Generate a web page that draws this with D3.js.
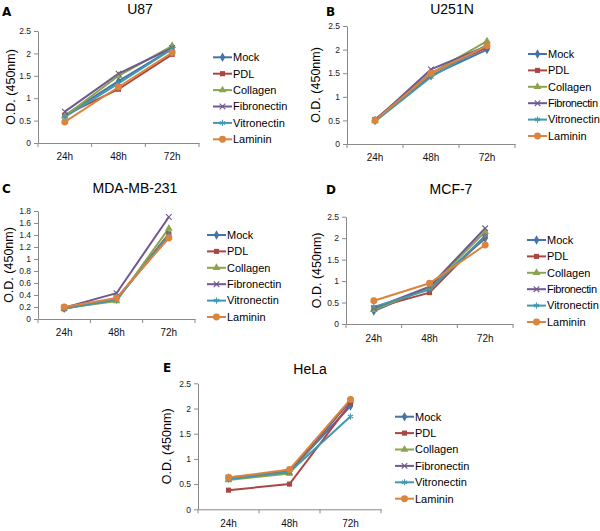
<!DOCTYPE html>
<html>
<head>
<meta charset="utf-8">
<script src="https://cdn.jsdelivr.net/npm/d3@7"></script>
<style>
  body { margin: 0; background: #fff; }
  svg { font-family: "Liberation Sans", Arial, sans-serif; }
</style>
</head>
<body>
<div id="chart"></div>
<script>
const width = 600;
const height = 531;

// categories / series names
const times = ["24h", "48h", "72h"];
const treatments = ["Mock", "PDL", "Collagen", "Fibronectin", "Vitronectin", "Laminin"];
const colors = ["#4572A7", "#AA4643", "#89A54E", "#71588F", "#4198AF", "#DB843D"];

// O.D. values, one row per treatment (24h, 48h, 72h)
const u87 = [
    [0.62, 1.38, 2.10],
    [0.62, 1.20, 1.98],
    [0.60, 1.50, 2.17],
    [0.70, 1.55, 2.12],
    [0.58, 1.33, 2.10],
    [0.47, 1.25, 2.02]
];
const u251n = [
    [0.50, 1.45, 2.00],
    [0.52, 1.50, 2.05],
    [0.50, 1.50, 2.18],
    [0.50, 1.58, 2.08],
    [0.48, 1.42, 2.10],
    [0.50, 1.50, 2.08]
];
const mda = [
    [0.18, 0.33, 1.38],
    [0.17, 0.33, 1.42],
    [0.18, 0.30, 1.51],
    [0.19, 0.43, 1.70],
    [0.18, 0.32, 1.40],
    [0.20, 0.35, 1.35]
];
const mcf7 = [
    [0.30, 0.85, 2.00],
    [0.37, 0.73, 2.05],
    [0.33, 0.85, 2.15],
    [0.37, 0.87, 2.23],
    [0.40, 0.80, 2.05],
    [0.54, 0.95, 1.84]
];
const hela = [
    [0.62, 0.75, 2.05],
    [0.38, 0.50, 2.10],
    [0.58, 0.71, 2.17],
    [0.63, 0.75, 2.15],
    [0.60, 0.74, 1.84],
    [0.63, 0.79, 2.18]
];

// y tick values per panel
const ticks25 = [0, 0.5, 1, 1.5, 2, 2.5];
const ticks18 = [0, 0.2, 0.4, 0.6, 0.8, 1, 1.2, 1.4, 1.6, 1.8];

const svg = d3.select("#chart")
    .append("svg")
    .attr("width", width)
    .attr("height", height);

const symbols = [d3.symbolDiamond, d3.symbolSquare, d3.symbolTriangle, d3.symbolX, d3.symbolAsterisk, d3.symbolCircle];
const symbolSizes = [26, 26, 26, 22, 26, 38];
const stroked = [false, false, false, true, true, false];

function drawMarker(g, i, x, y) {
    const p = g.append("path")
        .attr("d", d3.symbol().type(symbols[i]).size(symbolSizes[i])())
        .attr("transform", `translate(${x},${y})`);
    if (stroked[i]) {
        p.attr("fill", "none").attr("stroke", colors[i]).attr("stroke-width", 1.1);
    } else {
        p.attr("fill", colors[i]);
    }
}

function drawPanel(p) {
    const g = svg.append("g");

    const x = d3.scaleBand().domain(times).range([p.x0, p.x1]);
    const y = d3.scaleLinear().domain([0, p.ymax]).range([p.yBot, p.yTop]);

    // y axis
    const yAxis = g.append("g")
        .attr("transform", `translate(${p.x0},0)`)
        .call(d3.axisLeft(y).tickValues(p.ticks).tickSize(4).tickSizeOuter(0)
            .tickFormat(d => String(+d.toFixed(1))));
    yAxis.select(".domain").attr("stroke", "#8a8a8a");
    yAxis.selectAll(".tick line").attr("stroke", "#8a8a8a");
    yAxis.selectAll("text").attr("font-size", 8.5).attr("fill", "#222")
        .attr("font-family", "'Liberation Sans', Arial, sans-serif");

    // x axis
    const xAxis = g.append("g")
        .attr("transform", `translate(0,${p.yBot})`)
        .call(d3.axisBottom(x).tickSize(0).tickSizeOuter(0).tickPadding(p.xPad));
    xAxis.select(".domain").attr("stroke", "#8a8a8a");
    xAxis.selectAll("text").attr("font-size", 10).attr("fill", "#111")
        .attr("font-family", "'Liberation Sans', Arial, sans-serif");
    const bounds = times.map(t => x(t)).concat([p.x1]);
    g.selectAll(".xt")
        .data(bounds)
        .enter()
        .append("line")
        .attr("x1", d => d).attr("x2", d => d)
        .attr("y1", p.yBot).attr("y2", p.yBot + 4)
        .attr("stroke", "#8a8a8a");

    const cx = t => x(t) + x.bandwidth() / 2;

    // lines
    const line = d3.line()
        .x((d, j) => cx(times[j]))
        .y(d => y(d));
    p.data.forEach((row, i) => {
        g.append("path")
            .datum(row)
            .attr("d", line)
            .attr("fill", "none")
            .attr("stroke", colors[i])
            .attr("stroke-width", 2);
    });
    p.data.forEach((row, i) => {
        row.forEach((v, j) => drawMarker(g, i, cx(times[j]), y(v)));
    });

    // title, panel letter, y label
    g.append("text")
        .attr("x", p.titleX).attr("y", p.titleY)
        .attr("text-anchor", "middle")
        .attr("font-size", 14)
        .text(p.title);
    g.append("text")
        .attr("x", p.letterX).attr("y", p.letterY)
        .attr("font-size", 12)
        .attr("font-weight", "bold")
        .attr("font-family", "'DejaVu Sans', sans-serif")
        .text(p.letter);
    g.append("text")
        .attr("transform", `translate(${p.labelX},${(p.yTop + p.yBot) / 2}) rotate(-90)`)
        .attr("text-anchor", "middle")
        .attr("dy", "0.35em")
        .attr("font-size", 12.5)
        .text("O.D. (450nm)");

    // legend
    const lg = g.append("g");
    treatments.forEach((name, i) => {
        const ly = p.legY + i * 16.4;
        lg.append("line")
            .attr("x1", p.legX).attr("x2", p.legX + 19)
            .attr("y1", ly).attr("y2", ly)
            .attr("stroke", colors[i])
            .attr("stroke-width", 2);
        drawMarker(lg, i, p.legX + 9.5, ly);
        lg.append("text")
            .attr("x", p.legX + 20).attr("y", ly)
            .attr("dy", "0.35em")
            .attr("font-size", 11)
            .attr("textLength", name === "Fibronectin" && p.legX > 500 ? 50 : null)
            .text(name);
    });
}

const panels = [
    { title: "U87", letter: "A", data: u87, ymax: 2.5, ticks: ticks25,
      x0: 38, x1: 199, yTop: 31, yBot: 143, xPad: 10,
      titleX: 140, titleY: 14, letterX: 2, letterY: 16, labelX: 11,
      legX: 213, legY: 57.3 },
    { title: "U251N", letter: "B", data: u251n, ymax: 2.5, ticks: ticks25,
      x0: 347, x1: 515, yTop: 26, yBot: 144, xPad: 10,
      titleX: 452, titleY: 14, letterX: 326, letterY: 16, labelX: 316,
      legX: 528, legY: 54 },
    { title: "MDA-MB-231", letter: "C", data: mda, ymax: 1.8, ticks: ticks18,
      x0: 38, x1: 195, yTop: 211, yBot: 319, xPad: 10,
      titleX: 135, titleY: 193, letterX: 2, letterY: 193, labelX: 9,
      legX: 207, legY: 235 },
    { title: "MCF-7", letter: "D", data: mcf7, ymax: 2.5, ticks: ticks25,
      x0: 346, x1: 513, yTop: 216.7, yBot: 324, xPad: 11,
      titleX: 451, titleY: 194, letterX: 326, letterY: 194, labelX: 317,
      legX: 527, legY: 240 },
    { title: "HeLa", letter: "E", data: hela, ymax: 2.5, ticks: ticks25,
      x0: 198, x1: 381, yTop: 383.3, yBot: 509.3, xPad: 11,
      titleX: 310, titleY: 374, letterX: 163, letterY: 372, labelX: 167,
      legX: 395, legY: 416.7 }
];

panels.forEach(drawPanel);
</script>
</body>
</html>
